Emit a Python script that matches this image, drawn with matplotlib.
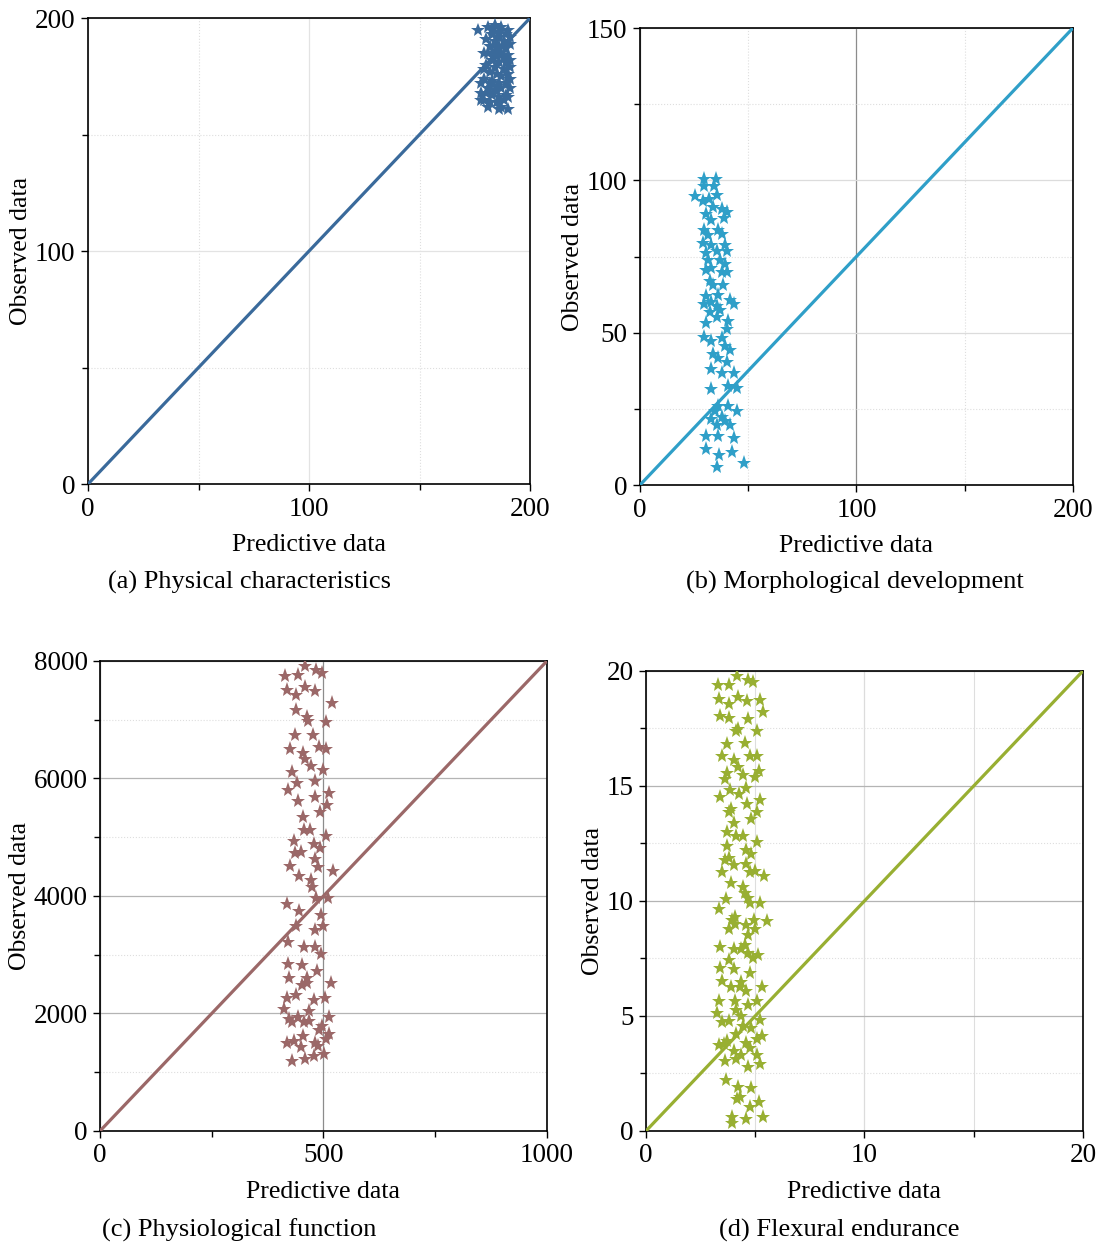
import numpy as np
import matplotlib
matplotlib.use('Agg')
import matplotlib.pyplot as plt
from matplotlib.ticker import MultipleLocator

plt.rcParams['font.family'] = ['Liberation Serif', 'DejaVu Serif']
plt.rcParams['mathtext.fontset'] = 'stix'

# (a) Physical characteristics
a_pred = [176.5, 181, 184, 187, 190, 183, 186, 189, 180, 184, 188, 191, 182, 185, 189, 181, 184, 187,
          190, 183, 186, 189, 180, 184, 188, 191, 182, 185, 187, 190, 179, 183, 186, 189, 181, 184,
          187, 191, 180, 183, 186, 189, 179, 182, 185, 188, 181, 186, 190, 178, 178, 178, 191, 191,
          191, 179, 179, 183, 186, 188, 185, 182, 187, 190, 184, 186]
a_obs = [195, 196, 197, 196, 195, 193, 192, 193, 191, 190, 190, 189, 188, 187, 187, 185, 184, 185,
         184, 182, 181, 181, 180, 179, 178, 179, 177, 176, 175, 176, 174, 173, 172, 172, 170, 169,
         170, 170, 168, 167, 166, 167, 165, 164, 164, 165, 162, 161, 161, 172, 168, 165, 174, 182,
         192, 178, 185, 195, 188, 183, 171, 172, 162, 166, 186, 194]

# (b) Morphological development
b_pred = [29.8, 34.9, 29.5, 34.1, 25.5, 29.0, 31.7, 35.4, 33.8, 37.7, 40.4, 30.6, 33.0, 39.0, 29.8,
          36.2, 31.4, 37.7, 29.0, 33.0, 39.3, 30.6, 35.4, 40.1, 31.4, 37.0, 33.0, 39.3, 30.6, 37.7,
          40.1, 32.2, 33.8, 38.5, 30.6, 36.2, 33.0, 29.8, 35.4, 41.7, 43.3, 32.2, 37.0, 35.4, 40.9,
          30.6, 40.1, 29.8, 33.0, 37.7, 39.3, 41.7, 33.8, 36.2, 40.1, 33.0, 37.7, 43.3, 40.9, 44.9,
          33.0, 36.2, 40.9, 44.9, 34.6, 37.7, 39.3, 35.4, 41.7, 30.6, 36.2, 43.3, 30.6, 42.5, 36.5,
          48.1, 35.4, 33.0]
b_obs = [100.4, 100.4, 98.3, 98.0, 94.9, 93.2, 93.9, 95.1, 91.4, 90.7, 89.5, 88.9, 87.0, 87.6, 83.8,
         83.8, 82.0, 82.3, 79.4, 78.8, 78.8, 76.3, 76.9, 76.9, 73.8, 73.8, 71.3, 72.5, 70.7, 70.0,
         69.8, 66.9, 65.6, 65.6, 61.9, 62.5, 60.0, 59.4, 58.7, 60.6, 59.4, 56.9, 57.5, 55.0, 53.7,
         53.1, 51.2, 48.7, 47.4, 48.1, 45.6, 44.3, 43.0, 41.8, 40.5, 38.0, 36.8, 36.8, 32.4, 31.8,
         31.4, 26.1, 26.1, 24.2, 24.2, 22.3, 21.1, 19.8, 19.8, 16.1, 16.1, 15.4, 11.7, 11.0, 9.8,
         7.3, 5.8, 21.7]

# (c) Physiological function
c_pred = [458, 484, 497, 414, 443, 418, 459, 482, 439, 519, 439, 464, 465, 505, 436, 476, 426, 490,
          505, 454, 459, 472, 430, 498, 441, 480, 421, 512, 480, 443, 507, 493, 454, 457, 470, 505,
          435, 479, 493, 437, 449, 480, 426, 487, 521, 445, 472, 474, 484, 511, 418, 445, 494, 439,
          499, 482, 421, 457, 480, 494, 421, 451, 485, 422, 464, 516, 451, 462, 418, 439, 479, 503,
          412, 467, 422, 443, 513, 430, 457, 468, 490, 497, 512, 454, 505, 418, 435, 480, 449, 488,
          479, 502, 430, 459]
c_obs = [7915, 7849, 7803, 7751, 7757, 7508, 7553, 7488, 7429, 7277, 7166, 7047, 6982, 6962, 6732,
         6732, 6508, 6535, 6502, 6436, 6324, 6212, 6107, 6140, 5930, 5963, 5811, 5746, 5687, 5614,
         5555, 5424, 5338, 5128, 5128, 5023, 4944, 4878, 4812, 4727, 4746, 4635, 4516, 4497, 4431,
         4332, 4273, 4155, 3958, 3971, 3859, 3741, 3675, 3497, 3497, 3418, 3215, 3123, 3123, 3004,
         2840, 2820, 2722, 2610, 2610, 2524, 2478, 2524, 2268, 2314, 2235, 2261, 2084, 2038, 1900,
         1933, 1933, 1854, 1854, 1874, 1722, 1788, 1644, 1624, 1558, 1492, 1525, 1492, 1427, 1446,
         1282, 1315, 1196, 1229]

# (d) Flexural endurance
d_pred = [4.16, 3.28, 3.80, 4.66, 4.90, 3.36, 3.80, 4.21, 4.63, 5.21, 5.37, 3.41, 3.80, 4.66, 4.23,
          4.12, 5.06, 3.72, 4.54, 3.49, 4.77, 5.06, 4.03, 4.19, 5.18, 4.43, 4.98, 3.72, 3.61, 4.59,
          3.83, 4.24, 3.41, 5.24, 4.62, 3.88, 3.80, 5.09, 4.82, 4.03, 3.72, 4.12, 4.43, 5.09, 3.72,
          4.58, 4.82, 3.80, 3.61, 4.03, 4.58, 3.49, 4.74, 4.98, 5.40, 3.88, 4.43, 4.51, 4.66, 3.64,
          4.74, 5.24, 3.36, 4.08, 3.92, 4.95, 5.56, 4.08, 4.59, 3.80, 4.98, 4.66, 4.51, 3.41, 4.03,
          4.34, 4.66, 5.14, 4.90, 3.80, 3.41, 4.03, 4.74, 3.49, 4.34, 3.88, 4.31, 5.29, 4.58, 3.33,
          4.08, 4.66, 5.06, 3.25, 4.11, 4.34, 3.49, 3.80, 5.21, 4.43, 4.82, 4.11, 5.29, 5.06, 3.72,
          3.33, 4.59, 3.56, 4.03, 4.74, 4.34, 5.06, 3.61, 4.11, 5.21, 4.66, 3.64, 4.19, 4.82, 4.16,
          4.28, 5.18, 4.77, 3.92, 4.59, 5.34, 3.94]
d_obs = [19.80, 19.41, 19.41, 19.61, 19.50, 18.78, 18.57, 18.86, 18.71, 18.74, 18.21, 18.02, 17.94,
         17.90, 17.48, 17.40, 17.40, 16.81, 16.85, 16.31, 16.31, 16.28, 16.14, 15.84, 15.64, 15.47,
         15.39, 15.56, 15.30, 14.92, 14.83, 14.66, 14.50, 14.38, 14.21, 14.01, 13.88, 13.88, 13.57,
         13.37, 13.00, 12.84, 12.82, 12.58, 12.37, 12.20, 12.03, 11.86, 11.78, 11.56, 11.61, 11.28,
         11.28, 11.31, 11.07, 10.77, 10.60, 10.35, 10.13, 10.10, 9.93, 9.93, 9.63, 9.30, 9.18, 9.18,
         9.13, 9.01, 8.96, 8.76, 8.76, 8.51, 8.09, 8.00, 7.92, 7.89, 7.72, 7.63, 7.53, 7.42, 7.08,
         7.05, 6.88, 6.54, 6.49, 6.24, 6.28, 6.28, 6.07, 5.65, 5.65, 5.49, 5.65, 5.15, 5.24, 4.98,
         4.73, 4.77, 4.82, 4.56, 4.48, 4.23, 4.14, 3.98, 3.89, 3.72, 3.81, 3.76, 3.47, 3.59, 3.31,
         3.31, 3.02, 3.14, 2.89, 2.80, 2.21, 1.91, 1.88, 1.38, 1.49, 1.24, 1.04, 0.62, 0.54, 0.62,
         0.34]

panels = [
    dict(pred=a_pred, obs=a_obs, xmax=200, ymax=200, xmaj=100, xmin=50, ymaj=100, ymin=50,
         color='#3A6A9B', ms=10, pos=[0.0801, 0.6112, 0.4022, 0.3743],
         caption='(a) Physical characteristics', cap_xy=(0.227, 0.5325),
         vgrid='#e3e3e3', hgrid='#e3e3e3', vminor=':'),
    dict(pred=b_pred, obs=b_obs, xmax=200, ymax=150, xmaj=100, xmin=50, ymaj=50, ymin=25,
         color='#2F9FC8', ms=11, pos=[0.5823, 0.6104, 0.3940, 0.3671],
         caption='(b) Morphological development', cap_xy=(0.778, 0.5325),
         vgrid='#8c8c8c', hgrid='#dcdcdc', vminor=':'),
    dict(pred=c_pred, obs=c_obs, xmax=1000, ymax=8000, xmaj=500, xmin=250, ymaj=2000, ymin=1000,
         color='#9B6868', ms=11, pos=[0.0910, 0.0916, 0.4067, 0.3775],
         caption='(c) Physiological function', cap_xy=(0.218, 0.012),
         vgrid='#8c8c8c', hgrid='#b4b4b4', vminor=None),
    dict(pred=d_pred, obs=d_obs, xmax=20, ymax=20, xmaj=10, xmin=5, ymaj=5, ymin=2.5,
         color='#98AF32', ms=11, pos=[0.5878, 0.0916, 0.3976, 0.3695],
         caption='(d) Flexural endurance', cap_xy=(0.764, 0.012),
         vgrid='#dcdcdc', hgrid='#b4b4b4', vminor='-'),
]

fig = plt.figure(figsize=(10.99, 12.45), dpi=100)

for p in panels:
    ax = fig.add_axes(p['pos'])
    ax.plot([0, p['xmax']], [0, p['ymax']], color=p['color'], lw=2.3, zorder=3)
    ax.plot(p['pred'], p['obs'], linestyle='', marker='*', ms=p['ms'],
            color=p['color'], markeredgewidth=0, zorder=4)
    ax.set_xlim(0, p['xmax'])
    ax.set_ylim(0, p['ymax'])
    ax.xaxis.set_major_locator(MultipleLocator(p['xmaj']))
    ax.xaxis.set_minor_locator(MultipleLocator(p['xmin']))
    ax.yaxis.set_major_locator(MultipleLocator(p['ymaj']))
    ax.yaxis.set_minor_locator(MultipleLocator(p['ymin']))
    ax.grid(True, which='major', axis='x', color=p['vgrid'], lw=0.9, zorder=0)
    ax.grid(True, which='major', axis='y', color=p['hgrid'], lw=0.9, zorder=0)
    ax.grid(True, which='minor', axis='y', color='#dedede', lw=0.8, ls=':', zorder=0)
    if p['vminor'] is not None:
        ax.grid(True, which='minor', axis='x', color='#dedede', lw=0.8, ls=p['vminor'], zorder=0)
    ax.tick_params(which='major', direction='out', length=5, width=1, labelsize=19.5, pad=4)
    ax.tick_params(which='minor', direction='out', length=4, width=1)
    for s in ax.spines.values():
        s.set_linewidth(1.2)
    ax.set_xlabel('Predictive data', fontsize=18.5, labelpad=9)
    ax.set_ylabel('Observed data', fontsize=18.5, labelpad=2)
    fig.text(p['cap_xy'][0], p['cap_xy'][1], p['caption'], fontsize=19,
             ha='center', va='center')

fig.savefig('out.png', dpi=100)
